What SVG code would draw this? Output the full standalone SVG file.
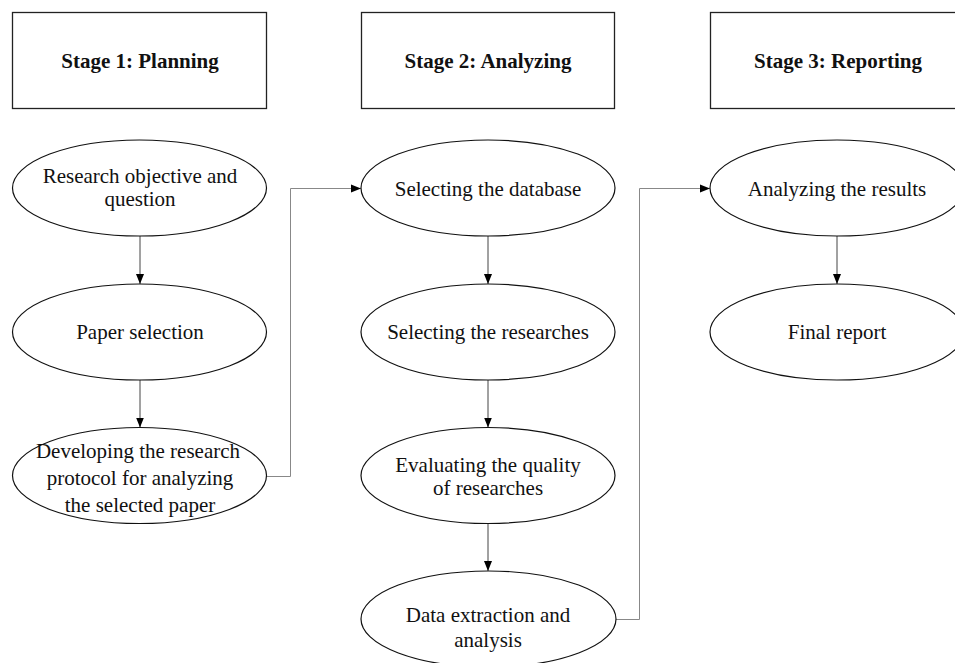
<svg xmlns="http://www.w3.org/2000/svg" width="955" height="663" viewBox="0 0 955 663">
  <style>
    .stage rect { fill: #fff; stroke: #222; stroke-width: 1.3; }
    .stage text { font-family: "Liberation Serif", "Times New Roman", serif; font-size: 21px; font-weight: bold; fill: #111; text-anchor: middle; }
    .step ellipse { fill: #fff; stroke: #111; stroke-width: 1.2; }
    .step text { font-family: "Liberation Serif", "Times New Roman", serif; font-size: 21px; fill: #111; text-anchor: middle; }
    .down { fill: none; stroke: #444; stroke-width: 1; marker-end: url(#arrow); }
    .elbow { fill: none; stroke: #888; stroke-width: 1; marker-end: url(#arrow); }
  </style>
  <defs>
    <marker id="arrow" viewBox="0 0 10 10" refX="10" refY="5" markerWidth="10" markerHeight="10" markerUnits="userSpaceOnUse" orient="auto">
      <path d="M0,1 L10,5 L0,9 Z" fill="#000"/>
    </marker>
  </defs>
  <rect width="955" height="663" fill="#fff"/>

  <!-- stage headers -->
  <g id="stage1" class="stage">
    <rect x="12.5" y="12.5" width="254" height="96"/>
    <text x="140" y="68">Stage 1: Planning</text>
  </g>
  <g id="stage2" class="stage">
    <rect x="361.5" y="12.5" width="253" height="96"/>
    <text x="488" y="68">Stage 2: Analyzing</text>
  </g>
  <g id="stage3" class="stage">
    <rect x="710.5" y="12.5" width="256" height="96"/>
    <text x="838" y="68">Stage 3: Reporting</text>
  </g>

  <!-- connectors -->
  <g id="connectors">
    <path class="down" d="M140,236 V284"/>
    <path class="down" d="M140,380 V427.5"/>
    <path class="down" d="M488,236 V284"/>
    <path class="down" d="M488,380 V427.5"/>
    <path class="down" d="M488,523.5 V571"/>
    <path class="down" d="M837,236 V284"/>
    <path class="elbow" d="M266.5,476.5 H290.5 V188.5 H361"/>
    <path class="elbow" d="M616,619.5 H639.5 V188.5 H710"/>
  </g>

  <!-- stage 1 steps -->
  <g id="objective" class="step">
    <ellipse cx="139.5" cy="188" rx="127" ry="48"/>
    <text x="140" y="183">Research objective and</text>
    <text x="140" y="206">question</text>
  </g>
  <g id="paper-selection" class="step">
    <ellipse cx="139.5" cy="332" rx="127" ry="48"/>
    <text x="140" y="339">Paper selection</text>
  </g>
  <g id="protocol" class="step">
    <ellipse cx="139.5" cy="475.5" rx="127" ry="48"/>
    <text x="138" y="458">Developing the research</text>
    <text x="140" y="485">protocol for analyzing</text>
    <text x="140" y="511.5">the selected paper</text>
  </g>

  <!-- stage 2 steps -->
  <g id="database" class="step">
    <ellipse cx="488" cy="188" rx="127" ry="48"/>
    <text x="488" y="196">Selecting the database</text>
  </g>
  <g id="researches" class="step">
    <ellipse cx="488" cy="332" rx="127" ry="48"/>
    <text x="488" y="339">Selecting the researches</text>
  </g>
  <g id="quality" class="step">
    <ellipse cx="488" cy="475.5" rx="127" ry="48"/>
    <text x="488" y="471.5">Evaluating the quality</text>
    <text x="488" y="495">of researches</text>
  </g>
  <g id="extraction" class="step">
    <ellipse cx="488.5" cy="619" rx="127.5" ry="48"/>
    <text x="488" y="621.5">Data extraction and</text>
    <text x="488" y="647">analysis</text>
  </g>

  <!-- stage 3 steps -->
  <g id="results" class="step">
    <ellipse cx="837" cy="188" rx="127" ry="48"/>
    <text x="837" y="196">Analyzing the results</text>
  </g>
  <g id="final-report" class="step">
    <ellipse cx="837" cy="332" rx="127" ry="48"/>
    <text x="837" y="339">Final report</text>
  </g>
</svg>
